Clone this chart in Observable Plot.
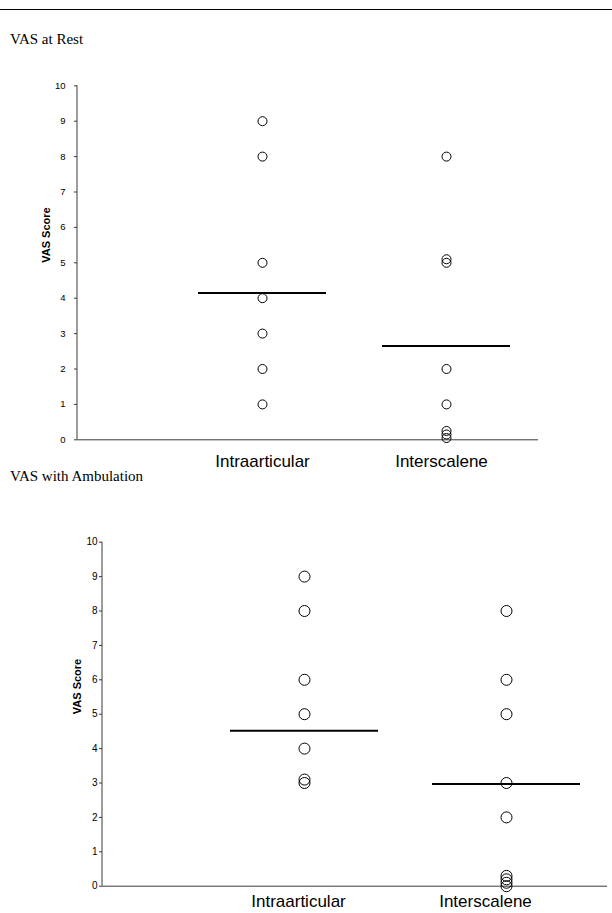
<!DOCTYPE html>
<html>
<head>
<meta charset="utf-8">
<script src="https://cdn.jsdelivr.net/npm/d3@7"></script>
<script src="https://cdn.jsdelivr.net/npm/@observablehq/plot@0.6"></script>
<style>
  html, body { margin: 0; padding: 0; background: #fff; }
  #page { position: relative; width: 612px; height: 913px; overflow: hidden; background: #fff; }
  .rule { position: absolute; left: 0; top: 9px; width: 612px; border-top: 1.5px solid #000; }
  .title { position: absolute; left: 10px; font-family: "Liberation Serif", "Times New Roman", serif; font-size: 15px; line-height: 15px; color: #000; z-index: 2; white-space: nowrap; }
  .chart { position: absolute; left: 0; z-index: 1; }
  .chart svg { background: transparent !important; }
</style>
</head>
<body>
<div id="page">
  <div class="rule"></div>
  <div class="title" style="top:31.5px">VAS at Rest</div>
  <div class="chart" id="c1" style="top:70px"></div>
  <div class="title" style="top:468.5px">VAS with Ambulation</div>
  <div class="chart" id="c2" style="top:500px"></div>
</div>
<script>
// ---- data ----
const categories = ["Intraarticular", "Interscalene"];
const yTicks = [0, 1, 2, 3, 4, 5, 6, 7, 8, 9, 10];
const yLabel = "VAS Score";

// VAS at Rest
const restIntraarticular = [9, 8, 5, 4, 3, 2, 1];
const restInterscalene = [8, 5.1, 5, 2, 1, 0.25, 0.15, 0.05];
const restMeans = [4.15, 2.65];

// VAS with Ambulation
const ambIntraarticular = [9, 8, 6, 5, 4, 3.1, 3];
const ambInterscalene = [8, 6, 5, 3, 2, 0.3, 0.2, 0.1, 0];
const ambMeans = [4.52, 2.97];

function rows(a, b) {
  return [
    ...a.map(v => ({group: categories[0], value: v})),
    ...b.map(v => ({group: categories[1], value: v}))
  ];
}
function meanRows(m) { return m.map((v, i) => ({group: categories[i], value: v})); }

function yAxisLine(stroke) {
  return (index, scales, values, dims) => {
    const g = d3.create("svg:line")
      .attr("x1", dims.marginLeft).attr("x2", dims.marginLeft)
      .attr("y1", scales.y(10)).attr("y2", scales.y(0))
      .attr("stroke", stroke).attr("stroke-width", 1);
    return g.node();
  };
}

function makeChart(opt) {
  return Plot.plot({
    width: 612,
    height: opt.height,
    marginLeft: opt.marginLeft,
    marginRight: opt.marginRight,
    marginTop: opt.marginTop,
    marginBottom: opt.marginBottom,
    style: {fontFamily: "'Liberation Sans', Arial, sans-serif", background: "transparent", color: "#000"},
    x: {type: "band", domain: categories, paddingInner: opt.pi, paddingOuter: opt.po, align: opt.align, axis: null, label: null},
    y: {domain: [0, 10], axis: null, label: null},
    marks: [
      Plot.ruleY([0], {stroke: "#3a3a3a", strokeWidth: 1}),
      yAxisLine("#3a3a3a"),
      Plot.axisY({ticks: yTicks, label: null, tickSize: 3, tickPadding: opt.tickPad, fontSize: opt.tickFont, stroke: "#3a3a3a", fill: "#000"}),
      Plot.axisX({ticks: [categories[0]], label: null, tickSize: 0, tickPadding: opt.catPad, dx: opt.catDx[0], fontSize: 17, fill: "#000"}),
      Plot.axisX({ticks: [categories[1]], label: null, tickSize: 0, tickPadding: opt.catPad, dx: opt.catDx[1], fontSize: 17, fill: "#000"}),
      Plot.text([yLabel], {frameAnchor: "left", rotate: -90, dx: -opt.labelOff, fontSize: 11, fontWeight: "bold", fill: "#000"}),
      Plot.dot(opt.data, {x: "group", y: "value", r: opt.r, stroke: "#000", fill: "none", strokeWidth: 1}),
      Plot.tickY(opt.means, {x: "group", y: "value", stroke: "#000", strokeWidth: 2})
    ]
  });
}

document.getElementById("c1").appendChild(makeChart({
  height: 405, marginLeft: 77, marginRight: 74, marginTop: 15.3, marginBottom: 35.7,
  pi: 0.305, po: 0.4025, align: 0.811, tickPad: 9, tickFont: 9.5, catPad: 15, catDx: [0, -5], labelOff: 31, r: 4.5,
  data: rows(restIntraarticular, restInterscalene), means: meanRows(restMeans)
}));

document.getElementById("c2").appendChild(makeChart({
  height: 413, marginLeft: 102, marginRight: 5, marginTop: 41.7, marginBottom: 27.3,
  pi: 0.2675, po: 0.38375, align: 0.8257, tickPad: 2, tickFont: 10, catPad: 9, catDx: [-6, -21], labelOff: 25, r: 5.5,
  data: rows(ambIntraarticular, ambInterscalene), means: meanRows(ambMeans)
}));
</script>
</body>
</html>
